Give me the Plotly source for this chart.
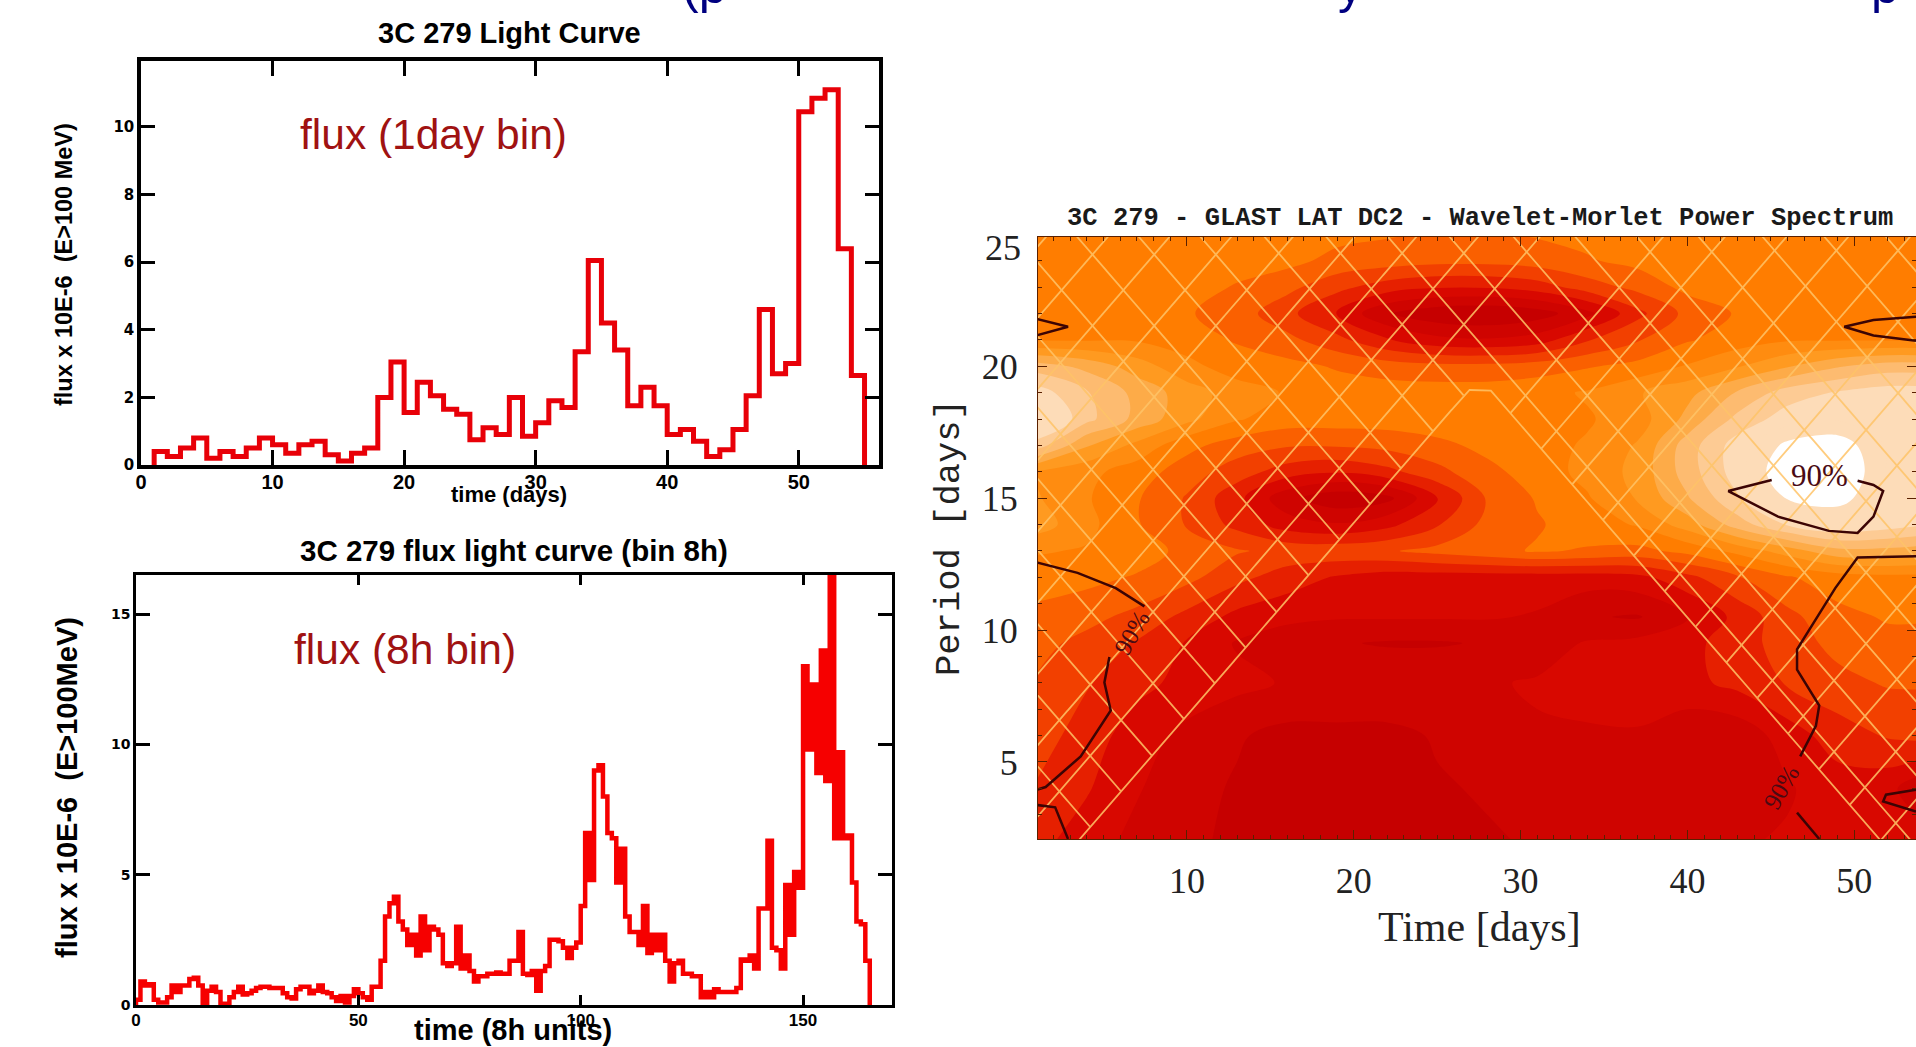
import numpy as np
import plotly.graph_objects as go

W, H = 1916, 1047

# --- Top panel: 1-day bins, first bin starts at day 1
flux_1day = [0.4,0.25,0.5,0.8,0.2,0.4,0.25,0.5,0.8,0.6,0.35,0.6,0.7,0.3,0.12,0.35,0.5,2.0,3.05,1.55,
             2.45,2.05,1.65,1.5,0.75,1.1,0.9,2.0,0.85,1.25,1.9,1.7,3.35,6.05,4.2,3.4,1.75,2.3,1.75,0.9,
             1.05,0.7,0.25,0.45,1.05,2.05,4.6,2.7,3.0,10.45,10.85,11.1,6.4,2.65]
# --- Bottom panel: 8-hour bins, first bin starts at 0
flux_8h = [0.2,0.9,0.75,0.8,0.2,0.1,0.1,0.3,0.75,0.5,0.75,0.75,1.0,1.05,0.75,0.05,0.55,0.7,0.5,0.05,
           0.05,0.3,0.5,0.7,0.4,0.45,0.55,0.65,0.7,0.7,0.65,0.65,0.65,0.45,0.3,0.25,0.6,0.7,0.7,0.45,
           0.55,0.75,0.5,0.45,0.3,0.15,0.35,0.1,0.35,0.6,0.45,0.3,0.2,0.7,0.7,1.7,3.4,3.9,4.15,3.2,
           2.9,2.3,2.7,1.9,3.4,2.1,3.0,2.9,2.7,1.6,1.5,1.6,3.0,1.4,1.9,1.3,0.9,1.1,1.1,1.2,
           1.2,1.25,1.2,1.2,1.7,1.7,2.8,1.2,1.15,1.3,0.55,1.3,1.5,2.5,2.5,2.45,2.2,1.8,2.2,2.4,
           3.8,6.6,4.8,9.0,9.2,8.0,6.6,6.4,4.7,6.0,3.4,2.8,2.8,2.3,3.8,2.0,2.7,2.1,2.7,1.7,
           0.9,1.6,1.7,1.2,1.2,1.1,1.1,0.3,0.5,0.3,0.6,0.5,0.5,0.5,0.5,0.65,1.75,1.7,1.9,1.4,
           3.7,3.7,6.3,2.2,2.1,1.4,4.6,2.7,5.1,4.5,13.0,9.8,12.3,8.9,13.6,8.6,16.8,6.4,9.7,6.4,
           6.5,4.7,3.2,3.1,1.7]

# --- Right panel: wavelet power band index (0 darkest ... 8 white)
wavelet_time = [1,4,7,10,13,16,19,22,25,28,31,34,37,40,43,46,49,52,54]
wavelet_period = [2.0,4,6,8,9.5,10.5,12,13,14,15,16,17,18,19,20,21,22,23,24,25]
wavelet_band = [
 [2.4,2.0,1.6,1.3,1.2,1.1,1.1,1.1,1.1,1.2,1.3,1.4,1.5,1.6,1.7,1.8,1.8,2.0,2.0],
 [2.7,2.3,1.8,1.4,1.2,1.1,1.1,1.1,1.2,1.3,1.5,1.7,1.4,1.3,1.4,1.7,2.0,1.9,1.4],
 [3.0,2.5,2.0,1.6,1.3,1.1,1.1,1.1,1.3,1.5,1.7,1.7,1.7,1.4,1.4,2.0,2.5,2.8,2.9],
 [3.2,2.8,2.4,2.1,1.9,1.7,1.7,1.7,1.7,1.7,1.8,1.9,2.0,2.1,2.4,2.8,3.1,3.3,3.3],
 [3.4,3.1,2.7,2.2,1.7,1.4,1.3,1.2,1.2,1.3,1.5,1.8,1.9,2.1,2.5,3.0,3.4,3.6,3.6],
 [3.6,3.4,3.1,2.6,2.1,1.9,1.8,1.8,1.8,1.8,1.7,1.3,1.2,1.7,2.4,3.1,3.6,3.8,3.8],
 [4.0,3.9,3.7,3.4,2.9,2.5,2.2,2.0,2.0,2.0,2.0,2.0,2.1,2.6,3.2,3.7,4.0,4.1,4.1],
 [4.3,4.2,4,3.6,3.3,3.1,3.1,3.2,3.4,3.6,3.8,3.7,3.6,3.9,4.4,5,5.6,5.6,5.5],
 [5,4.4,3.8,3.2,2.6,2.0,1.8,2.1,2.7,3.4,3.7,4,4.3,5,6,6.8,7.2,7,6.8],
 [4.8,4.3,3.8,3.2,2.4,1.4,0.9,1.1,2.2,3.3,3.8,4.2,4.8,5.7,6.7,7.8,8.0,7.2,7],
 [4.7,4.4,4,3.5,3,2.5,2.3,2.6,3.1,3.6,4,4.4,4.9,6,7,8.3,8.4,7.2,7],
 [6.5,5.3,4.6,3.9,3.5,3.3,3.3,3.4,3.6,3.9,4.1,4.3,4.8,6,7,7.9,8.1,7.2,7],
 [7.6,6.4,5.6,4.9,4.3,4,4,4,4.1,4.1,4.1,4.2,4.5,5.4,6.4,7,7.2,7.2,7.2],
 [7,6.3,5.6,5,4.5,4.2,4,4,4,4,4.1,4.3,4.7,5.1,5.8,6.5,6.8,7,7],
 [6,5.6,5,4.4,4,3.9,3.7,3.5,3.4,3.4,3.5,3.7,3.9,4.3,4.7,5.2,5.7,6,6],
 [4.2,4.2,4.2,4,3.7,3.4,2.9,2.3,1.9,1.8,2,2.7,3.2,3.7,4,4.2,4.2,4.2,4.2],
 [3.8,4,4,3.8,3.5,2.9,2.2,1.3,0.9,0.8,1,1.6,2.6,3.4,3.8,4,3.9,3.8,3.8],
 [4,4,4,4,3.7,3.4,2.9,2.5,2.3,2.3,2.5,3,3.4,3.9,4,4,4,4,4],
 [4,4,4,4,4,3.9,3.6,3.5,3.4,3.4,3.5,3.7,3.9,4,4,4,4,4,4],
 [4,4,4,4,4,4,3.9,3.8,3.7,3.7,3.8,3.9,4,4,4,4,4,4,4],
]
# One colour per half band index, from 0 to 8
band_colors = ["#b00000","#bc0000","#c60000","#cf0400","#d80800","#e62000","#f24000","#fa6000","#ff7d00",
               "#ff8c10","#ff9a20","#fdab48","#fdbb70","#fdcb94","#fddcb8","#fddcb8","#ffffff"]

# 90% significance contours (time, period)
c90_t = [1,3.44,5.73,7.45,None, 5.35,5.05,5.43,3.63,1.53,1,None, 1,2.1,2.87,None, 1,2.87,1,None,
         53.7,51.15,49.4,51.15,53.7,None,
         45.05,42.45,45.43,48.48,50.2,51.15,51.73,51.15,50.2,None,
         53.7,50.2,48.86,46.57,46.57,47.9,47.7,46.76,None, 46.57,47.9,None,
         53.7,51.9,51.73,53.7]
c90_p = [12.56,12.17,11.59,10.9,None, 8.98,8.01,6.95,5.21,4.05,3.95,None, 3.37,3.28,2.08,None, 21.79,21.5,21.17,None,
         21.88,21.75,21.5,21.17,20.97,None,
         15.69,15.27,14.3,13.76,13.68,14.3,15.27,15.5,15.66,None,
         12.8,12.75,11.59,9.27,8.5,7.14,6.37,5.21,None, 3.08,2.08,None,
         3.95,3.76,3.5,3.12]

# Cone of influence: rising edge, flat top, falling edge
coi_rise_t0, coi_fall_t0, coi_top = 3.58, 51.5, 19.1
coi_floor, coi_slope = 2.08, 0.73
# Hatch line intercepts (period at t = 0) for each diagonal direction
hatch_down = [5.6,8.3,11.0,13.8,16.5,19.2,21.9,24.7,27.4,30.1,32.8,35.6,38.3,41.0,43.7,46.5,49.2,51.9,54.6,57.4,60.1,62.8,65.5]
hatch_up = [-35.63,-32.93,-30.23,-27.53,-24.83,-22.13,-19.43,-16.73,-14.03,-11.33,-8.63,-5.93,-3.23,2.17,4.87,7.57,10.27,12.97,15.67,18.37,21.07,23.77]

x_ticks_top = [0,10,20,30,40,50]
y_ticks_top = [0,2,4,6,8,10]
x_ticks_bot = [0,50,100,150]
y_ticks_bot = [0,5,10,15]

BOLD = "Liberation Sans"
SERIF = "Liberation Serif"
MONO = "Liberation Mono"


def step(start, values):
    n = len(values)
    return [start] + [start + i for i in range(n + 1)], [0] + list(values) + [0]


def dom(a, b, total):
    return [a / total, b / total]


def ydom(top, bottom):
    return [1 - bottom / H, 1 - top / H]


def ann(text, x, y, size, family=BOLD, color="black", bold=False, angle=0):
    return dict(text=f"<b>{text}</b>" if bold else text, x=x / W, y=1 - y / H, xref="paper", yref="paper",
                showarrow=False, xanchor="center", yanchor="middle", textangle=angle,
                font=dict(size=size, family=family, color=color))


fig = go.Figure()

x, y = step(1, flux_1day)
fig.add_trace(go.Scatter(x=x, y=y, mode="lines", line=dict(color="#e80008", width=5, shape="hv"),
                         xaxis="x", yaxis="y", showlegend=False))
x, y = step(0, flux_8h)
fig.add_trace(go.Scatter(x=x, y=y, mode="lines", line=dict(color="#f60000", width=4.5, shape="hv"),
                         xaxis="x2", yaxis="y2", showlegend=False))

n = len(band_colors) - 1
fig.add_trace(go.Contour(x=wavelet_time, y=wavelet_period, z=wavelet_band, xaxis="x3", yaxis="y3",
                         zmin=0, zmax=8, showscale=False,
                         colorscale=[[i / n, c] for i, c in enumerate(band_colors)],
                         contours=dict(start=0.25, end=7.75, size=0.5, coloring="fill", showlines=False),
                         line=dict(width=0, smoothing=1.0), hoverinfo="skip"))

# Hatching: both diagonal families, hidden inside the cone of influence
tt = np.linspace(1, 54, 2651)
rise = coi_floor + coi_slope * (tt - coi_rise_t0)
fall = coi_floor - coi_slope * (tt - coi_fall_t0)
cone = np.minimum(np.minimum(rise, fall), coi_top)
hx, hy = [], []
for sign, offsets in ((-1, hatch_down), (1, hatch_up)):
    for c in offsets:
        p = c + sign * coi_slope * tt
        mask = (p >= cone) & (p >= 2.0) & (p <= 25.5)
        hx.extend(np.where(mask, tt, np.nan).tolist() + [None])
        hy.extend(np.where(mask, p, np.nan).tolist() + [None])
mask = cone >= 2.0
hx.extend(np.where(mask, tt, np.nan).tolist())
hy.extend(np.where(mask, cone, np.nan).tolist())
fig.add_trace(go.Scatter(x=hx, y=hy, mode="lines", line=dict(color="#ffc468", width=1.8), opacity=0.85,
                         xaxis="x3", yaxis="y3", showlegend=False, hoverinfo="skip", connectgaps=False))
fig.add_trace(go.Scatter(x=c90_t, y=c90_p, mode="lines", line=dict(color="#3c0404", width=2.5),
                         xaxis="x3", yaxis="y3", showlegend=False, hoverinfo="skip"))

frame = dict(showgrid=False, zeroline=False, showline=True, linecolor="black", mirror="ticks",
             ticks="inside", tickcolor="black")

layout = dict(
    width=W, height=H, margin=dict(l=0, r=0, t=0, b=0, pad=0, autoexpand=False),
    paper_bgcolor="white", plot_bgcolor="white", showlegend=False,
    xaxis=dict(frame, domain=dom(141, 879, W), range=[0, 56.1], anchor="y", tickvals=x_ticks_top,
               linewidth=3.5, ticklen=15, tickwidth=2.5, ticklabelstandoff=-4,
               tickfont=dict(family=BOLD, size=20, color="black", weight="bold")),
    yaxis=dict(frame, domain=ydom(61, 465), range=[0, 11.95], anchor="x", tickvals=y_ticks_top,
               linewidth=3.5, ticklen=14, tickwidth=2.5, tickfont=dict(family="DejaVu Sans", size=15, color="black", weight="bold")),
    xaxis2=dict(frame, domain=dom(136, 892, W), range=[0, 170], anchor="y2", tickvals=x_ticks_bot,
                linewidth=2.5, ticklen=10, tickwidth=2.5, ticklabelstandoff=-2,
                tickfont=dict(family=BOLD, size=17, color="black", weight="bold")),
    yaxis2=dict(frame, domain=ydom(575, 1005), range=[0, 16.5], anchor="x2", tickvals=y_ticks_bot,
                linewidth=2.5, ticklen=14, tickwidth=2.5, tickfont=dict(family="DejaVu Sans", size=14, color="black", weight="bold")),
    xaxis3=dict(domain=dom(1038, 1916, W), range=[1.07, 53.7], anchor="y3", showgrid=False, zeroline=False,
                showline=True, linecolor="#5a2000", linewidth=1, mirror="ticks", ticks="inside", tickcolor="#5a2000",
                ticklen=9, tickwidth=1, tickvals=[10, 20, 30, 40, 50], ticklabelstandoff=10,
                minor=dict(ticks="inside", ticklen=4, tickwidth=1, tickcolor="#5a2000", dtick=1, tick0=0),
                tickfont=dict(family=SERIF, size=36, color="#222222")),
    yaxis3=dict(domain=ydom(237, 839), range=[2.08, 24.9], anchor="x3", showgrid=False, zeroline=False,
                showline=True, linecolor="#5a2000", linewidth=1, mirror="ticks", ticks="inside", tickcolor="#5a2000",
                ticklen=9, tickwidth=1, tickvals=[5, 10, 15, 20], ticklabelstandoff=12,
                minor=dict(ticks="inside", ticklen=4, tickwidth=1, tickcolor="#5a2000", dtick=1, tick0=0),
                tickfont=dict(family=SERIF, size=36, color="#222222")),
)

anns = [
    ann("3C 279 Light Curve", 509, 33, 29, BOLD, bold=True),
    ann("time (days)", 509, 495, 22, BOLD, bold=True),
    ann("flux x 10E-6  (E&gt;100 MeV)", 64, 265, 23.5, BOLD, bold=True, angle=-90),
    ann("flux (1day bin)", 433, 134, 42.5, BOLD, color="#a01212"),
    ann("3C 279 flux light curve (bin 8h)", 514, 550, 29.5, BOLD, bold=True),
    ann("time (8h units)", 513, 1030, 29, BOLD, bold=True),
    ann("flux x 10E-6  (E&gt;100MeV)", 67, 788, 29, BOLD, bold=True, angle=-90),
    ann("flux (8h bin)", 405, 649, 42.5, BOLD, color="#a01212"),
    ann("3C 279 - GLAST LAT DC2 - Wavelet-Morlet Power Spectrum", 1480, 218, 25.5, MONO, color="#1a1a1a", bold=True),
    ann("Time [days]", 1479, 927, 42, SERIF, color="#222222"),
    ann("Period [days]", 949, 538, 35.5, MONO, color="#222222", angle=-90),
    ann("25", 1003, 248, 36, SERIF, color="#222222"),
    ann("(p", 704, -14, 50, BOLD, color="#000080"),
    ann("y", 1350, -14, 50, BOLD, color="#000080"),
    ann("p", 1885, -14, 50, BOLD, color="#000080"),
]
for text, t, p, size, angle in (("90%", 47.9, 15.85, 31, 0), ("90%", 6.7, 9.9, 25, -60), ("90%", 45.6, 4.05, 25, -60)):
    anns.append(dict(text=text, x=t, y=p, xref="x3", yref="y3", showarrow=False, textangle=angle,
                     font=dict(family=SERIF, size=size, color="#4a0a14")))
layout["annotations"] = anns
fig.update_layout(**layout)
fig.write_html("out.html", config={"displayModeBar": False}, post_script="document.body.style.margin='0';")
